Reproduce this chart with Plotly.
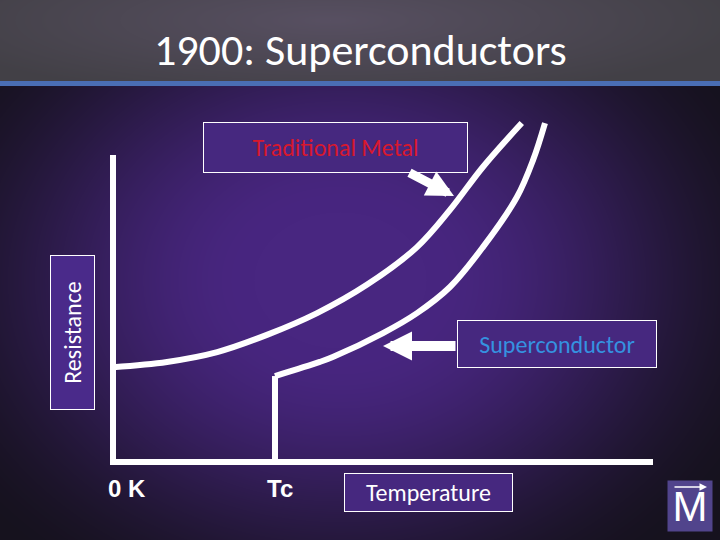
import base64
import struct
import zlib

import numpy as np
import plotly.graph_objects as go

# ---------------- data ----------------
metal_temp = [0.0, 1.0, 1.93, 2.85, 3.78, 4.70, 5.63, 6.24, 6.85, 7.57]
metal_res = [3.09, 3.26, 3.58, 4.14, 4.85, 5.77, 7.0, 8.21, 9.61, 11.04]

super_temp = [3.0, 3.0, 3.83, 4.07, 5.0, 5.63, 6.24, 6.85, 7.48, 7.78, 8.0]
super_res = [0.0, 2.8, 3.26, 3.42, 4.2, 4.85, 5.7, 7.0, 8.63, 9.84, 11.04]

axis_temp = [0, 0, 10]
axis_res = [10, 0, 0]

tick_vals = [0, 3]
tick_text = ["0 K", "Tc"]

title_text = "1900: Superconductors"
metal_label = "Traditional Metal"
super_label = "Superconductor"
x_label = "Temperature"
y_label = "Resistance"

# ---------------- geometry ----------------
W, H = 720, 540
X0_PX, X_UNIT = 113, 54.0     # pixel of T=0, pixels per unit
Y0_PX, Y_UNIT = 462, 30.7     # pixel of R=0, pixels per unit
x_range = [-X0_PX / X_UNIT, (W - X0_PX) / X_UNIT]
y_range = [-(H - Y0_PX) / Y_UNIT, Y0_PX / Y_UNIT]


def px(x):
    return x / W


def py(y):
    return 1 - y / H


def dx(xp):
    return (xp - X0_PX) / X_UNIT


def dy(yp):
    return (Y0_PX - yp) / Y_UNIT


# ---------------- background image ----------------
yy, xx = np.mgrid[0:H, 0:W].astype(float)
img = np.zeros((H, W, 3), dtype=float)

# purple radial body
d = np.sqrt(((xx - 340) / 430) ** 2 + ((yy - 280) / 340) ** 2)
t = np.clip((d - 0.2) / 0.9, 0, 1)
t = t * t * (3 - 2 * t)
inner = np.array([72, 38, 128])
outer = np.array([22, 18, 30])
img[:] = inner * (1 - t[..., None]) + outer * t[..., None]

# grey title bar
gx = np.abs(xx - 330) / 420
gy = np.abs(yy - 20) / 80
g = np.clip(np.sqrt(gx ** 2 + gy ** 2), 0, 1)
grey_in = np.array([88, 80, 98])
grey_out = np.array([66, 64, 70])
bar = grey_in * (1 - g[..., None]) + grey_out * g[..., None]
img[:81] = bar[:81]
# blue stripe
img[81:86] = np.array([74, 110, 180])

arr = np.clip(img, 0, 255).astype(np.uint8)


def png_bytes(a):
    h, w, _ = a.shape
    raw = b"".join(b"\x00" + a[r].tobytes() for r in range(h))

    def chunk(tag, data):
        c = struct.pack(">I", len(data)) + tag + data
        return c + struct.pack(">I", zlib.crc32(tag + data) & 0xFFFFFFFF)

    return (b"\x89PNG\r\n\x1a\n"
            + chunk(b"IHDR", struct.pack(">IIBBBBB", w, h, 8, 2, 0, 0, 0))
            + chunk(b"IDAT", zlib.compress(raw, 9))
            + chunk(b"IEND", b""))


bg_uri = "data:image/png;base64," + base64.b64encode(png_bytes(arr)).decode()

# ---------------- figure ----------------
fig = go.Figure()
LINE = dict(color="white", width=6)

fig.add_trace(go.Scatter(x=axis_temp, y=axis_res, mode="lines", line=LINE,
                         hoverinfo="skip"))
fig.add_trace(go.Scatter(x=metal_temp, y=metal_res, mode="lines",
                         line=dict(color="white", width=6, shape="spline",
                                   smoothing=1.0), hoverinfo="skip"))
fig.add_trace(go.Scatter(x=super_temp[:2], y=super_res[:2], mode="lines",
                         line=LINE, hoverinfo="skip"))
fig.add_trace(go.Scatter(x=super_temp[1:], y=super_res[1:], mode="lines",
                         line=dict(color="white", width=6, shape="spline",
                                   smoothing=1.0), hoverinfo="skip"))

FONT = "Carlito, Lato, sans-serif"
ann = []

# title
ann.append(dict(text=title_text, x=0.5, y=py(50), xref="paper", yref="paper",
                xanchor="center", yanchor="middle", showarrow=False,
                font=dict(family=FONT, size=44, color="white")))


def box(text, cx, cy, w, h, color, fill, angle=0):
    return dict(text=text, x=px(cx), y=py(cy), xref="paper", yref="paper",
                xanchor="center", yanchor="middle", showarrow=False,
                width=w, height=h, align="center", valign="middle",
                bgcolor=fill, bordercolor="white", borderwidth=1, borderpad=0,
                textangle=angle,
                font=dict(family=FONT, size=24, color=color))


ann.append(box(metal_label, 335.5, 147.5, 263, 49, "#d8182e", "#46287f"))
ann.append(box(super_label, 557, 344, 198, 46, "#3592e0", "#46287f"))
ann.append(box(x_label, 428.5, 492.5, 167, 37, "white", "#46287f"))
ann.append(box(y_label, 72.5, 332.5, 153, 43, "white", "#4a2a8a", angle=-90))

# tick labels
for v, lab, sh in zip(tick_vals, tick_text, [14, 5]):
    ann.append(dict(text="<b>" + lab + "</b>", x=v, y=py(488), xref="x",
                    yref="paper", xshift=sh, xanchor="center",
                    yanchor="middle", showarrow=False,
                    font=dict(family="Liberation Sans, Arial", size=24,
                              color="white")))

# arrows
ann.append(dict(text="", x=dx(454), y=dy(196), xref="x", yref="y",
                ax=-46, ay=-24, showarrow=True, arrowhead=2, arrowsize=0.6,
                arrowwidth=9, arrowcolor="white"))
ann.append(dict(text="", x=dx(383), y=dy(346), xref="x", yref="y",
                ax=74, ay=0, showarrow=True, arrowhead=2, arrowsize=0.58,
                arrowwidth=10, arrowcolor="white"))

# logo
ann.append(dict(text="M", x=px(690), y=py(506), xref="paper", yref="paper",
                xanchor="center", yanchor="middle", showarrow=False,
                width=44, height=50, bgcolor="#51448c", borderpad=0,
                font=dict(family="Liberation Sans Narrow, Arial", size=42,
                          color="white")))
ann.append(dict(text="", x=px(707), y=py(487), xref="paper", yref="paper",
                ax=-34, ay=0, showarrow=True, arrowhead=2, arrowsize=1,
                arrowwidth=1.5, arrowcolor="white"))

fig.update_layout(
    width=W, height=H,
    margin=dict(l=0, r=0, t=0, b=0),
    paper_bgcolor="#2a1a48",
    plot_bgcolor="rgba(0,0,0,0)",
    showlegend=False,
    xaxis=dict(range=x_range, visible=False, fixedrange=True),
    yaxis=dict(range=y_range, visible=False, fixedrange=True),
    images=[dict(source=bg_uri, xref="paper", yref="paper", x=0, y=1,
                 sizex=1, sizey=1, sizing="stretch", layer="below",
                 xanchor="left", yanchor="top")],
    annotations=ann,
)

fig.write_html(
    "out.html",
    config={"displayModeBar": False},
    post_script="document.body.style.margin='0';"
                "document.body.style.overflow='hidden';",
)
